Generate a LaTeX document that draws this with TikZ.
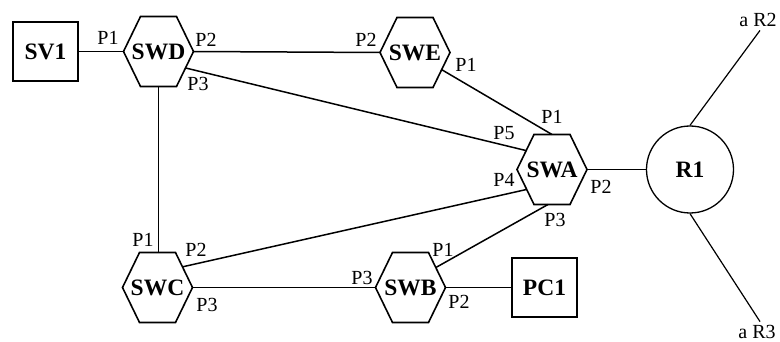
\documentclass[tikz,border=0pt]{standalone}
\usepackage{fontspec}
\setmainfont{Liberation Serif}
\usetikzlibrary{calc}
\tikzset{
  big/.style={font=\fontsize{23.5}{28}\selectfont\bfseries},
  port/.style={font=\fontsize{20}{24}\selectfont, inner sep=0pt},
  box/.style={big, draw, line width=1.6pt, minimum width=65.5pt, minimum height=59.5pt, inner sep=0pt},
  hexa/.style={big, minimum width=70pt, minimum height=70pt, inner sep=0pt, outer sep=0pt},
  hexline/.style={line width=1.6pt, line join=miter},
  router/.style={big, draw, circle, line width=1.3pt, minimum size=87pt, inner sep=0pt},
  link/.style={line width=1.5pt},
  thin link/.style={line width=1.2pt}
}
\begin{document}
\begin{tikzpicture}[x=1pt,y=-1pt]
\useasboundingbox (0,0) rectangle (780,342);
% devices
\node[box] (SV1) at (45.5,51.5) {SV1};
\node[hexa] (SWD) at (158.5,51.5) {SWD};
\node[hexa] (SWE) at (415,52.5) {SWE};
\node[hexa] (SWA) at (552,169.5) {SWA};
\node[hexa] (SWB) at (410.5,287.5) {SWB};
\node[hexa] (SWC) at (157.5,287.5) {SWC};
\node[box] (PC1) at (544.5,287.5) {PC1};
\node[router] (R1) at (690,169.5) {R1};
\node[port] (aR2) at (758,19.5) {a R2};
\node[port] (aR3) at (757,331.5) {a R3};
% hexagon outlines
\foreach \n in {SWD,SWE,SWA,SWB,SWC}{
  \coordinate (\n-nw) at ([xshift=17pt]\n.north west);
  \coordinate (\n-ne) at ([xshift=-17pt]\n.north east);
  \coordinate (\n-se) at ([xshift=-17pt]\n.south east);
  \coordinate (\n-sw) at ([xshift=17pt]\n.south west);
  \draw[hexline] (\n.west) -- (\n-nw) -- (\n-ne) -- (\n.east) -- (\n-se) -- (\n-sw) -- cycle;
}
% port points on slanted edges
\coordinate (SWDp3) at ($(SWD.east)!0.47!(SWD-se)$);
\coordinate (SWAp5) at ($(SWA.west)!0.54!(SWA-nw)$);
\coordinate (SWEp1) at ($(SWE.east)!0.49!(SWE-se)$);
\coordinate (SWAp4) at ($(SWA.west)!0.57!(SWA-sw)$);
\coordinate (SWCp2) at ($(SWC.east)!0.59!(SWC-ne)$);
\coordinate (SWAp3) at ([xshift=-4pt]SWA.south);
\coordinate (SWBp1) at ($(SWB.east)!0.57!(SWB-ne)$);
\coordinate (R2end) at ($(aR2.south)+(2,4)$);
\coordinate (R3end) at ($(aR3.north)+(3,-3)$);
% connectors
\draw[link] (SV1.east) -- (SWD.west);
\draw[link] (SWD.east) -- (SWE.west);
\draw[link] (SWDp3) -- (SWAp5);
\draw[link] (SWD.south) -- (SWD.south |- SWC.north);
\draw[link] (SWEp1) -- (SWA.north);
\draw[link] (SWAp4) -- (SWCp2);
\draw[link] (SWA.east) -- (R1.west);
\draw[link] (SWAp3) -- (SWBp1);
\draw[link] (SWC.east) -- (SWB.west);
\draw[link] (SWB.east) -- (PC1.west);
\draw[thin link] (R1.north) -- (R2end);
\draw[thin link] (R1.south) -- (R3end);
% port labels
\node[port] (l1) at (108,38) {P1};
\node[port] (l2) at (206,40) {P2};
\node[port] (l3) at (366,40) {P2};
\node[port] (l4) at (198,84) {P3};
\node[port] (l5) at (466,65) {P1};
\node[port] (l6) at (552,117) {P1};
\node[port] (l7) at (504,133) {P5};
\node[port] (l8) at (504,180) {P4};
\node[port] (l9) at (601,187) {P2};
\node[port] (l10) at (555,220) {P3};
\node[port] (l11) at (143,240) {P1};
\node[port] (l12) at (196,250) {P2};
\node[port] (l13) at (207,305) {P3};
\node[port] (l14) at (362,278) {P3};
\node[port] (l15) at (443,250) {P1};
\node[port] (l16) at (459,302) {P2};
\end{tikzpicture}
\end{document}
